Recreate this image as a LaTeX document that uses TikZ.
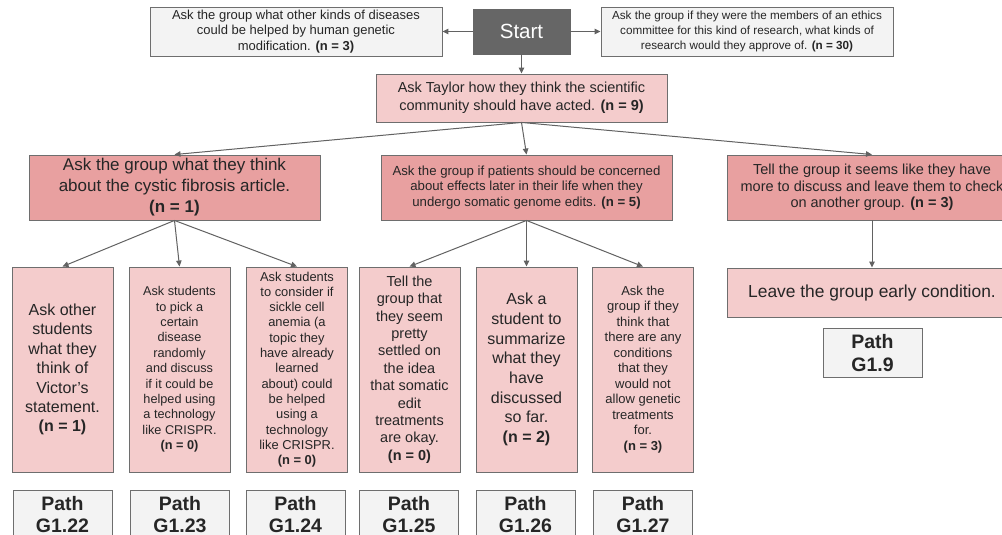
\documentclass[tikz,border=0pt]{standalone}
\usepackage{fontspec}
\setmainfont{Liberation Sans}
\usetikzlibrary{arrows.meta}
\definecolor{edge}{HTML}{6E6E6E}
\definecolor{linec}{HTML}{626262}
\definecolor{ink}{HTML}{262626}
\definecolor{grayfill}{HTML}{F3F3F3}
\definecolor{startfill}{HTML}{666666}
\definecolor{lightpink}{HTML}{F4CCCC}
\definecolor{darkpink}{HTML}{E8A0A0}
\newcommand\fsz[2]{\fontsize{#1}{#2}\selectfont}
\begin{document}
\begin{tikzpicture}[x=1pt,y=-1pt,
  box/.style={draw=edge, line width=0.9pt, align=center, inner sep=0pt, text=ink},
  graybox/.style={box, fill=grayfill},
  lpink/.style={box, fill=lightpink},
  dpink/.style={box, fill=darkpink},
  tallbox/.style={lpink, minimum width=101pt, minimum height=205pt},
  pathbox/.style={graybox, minimum width=99pt, minimum height=49pt, font=\fsz{19.5}{22.5}\bfseries},
  conn/.style={draw=linec, line width=1pt, -{Triangle[length=6pt,width=5.5pt]}}]
\clip (0,0) rectangle (1002,535);
\fill[white] (0,0) rectangle (1002,535);

% top row
\node[graybox, minimum width=292pt, minimum height=49pt, font=\fsz{13}{15.5}] (q1) at (296,31.5)
  {Ask the group what other kinds of diseases\\could be helped by human genetic\\modification. \textbf{(n = 3)}};
\node[box, fill=startfill, draw=startfill, text=white, minimum width=97pt, minimum height=45pt, font=\fsz{20.5}{24}] (start) at (521.5,31.5) {Start};
\node[graybox, minimum width=292pt, minimum height=49pt, font=\fsz{11.7}{15}] (q2) at (747,31.5)
  {Ask the group if they were the members of an ethics\\committee for this kind of research, what kinds of\\research would they approve of. \textbf{(n = 30)}};

\node[lpink, minimum width=291pt, minimum height=48pt, font=\fsz{14.5}{18}] (taylor) at (521.5,98)
  {Ask Taylor how they think the scientific\\community should have acted. \textbf{(n = 9)}};

% second row
\node[dpink, minimum width=291pt, minimum height=65pt, font=\fsz{17}{21}] (cystic) at (174.5,187.5)
  {Ask the group what they think\\about the cystic fibrosis article.\\\textbf{(n = 1)}};
\node[dpink, minimum width=291pt, minimum height=65pt, font=\fsz{13.2}{15.5}] (somatic) at (526.5,187.5)
  {Ask the group if patients should be concerned\\about effects later in their life when they\\undergo somatic genome edits. \textbf{(n = 5)}};
\node[dpink, minimum width=290pt, minimum height=65pt, font=\fsz{14.5}{16.5}] (tell) at (872,187.5)
  {Tell the group it seems like they have\\more to discuss and leave them to check\\on another group. \textbf{(n = 3)}};

\node[lpink, minimum width=290pt, minimum height=49pt, font=\fsz{17.4}{21}] (leave) at (872,292.5)
  {Leave the group early condition.};
\node[pathbox] (g19) at (872.5,353) {Path\\G1.9};

% third row
\node[tallbox, font=\fsz{16}{19.4}] (b1) at (62.5,369.5)
  {Ask other\\students\\what they\\think of\\Victor’s\\statement.\\\textbf{(n = 1)}};
\node[tallbox, font=\fsz{12.7}{15.4}] (b2) at (179.5,369.5)
  {Ask students\\to pick a\\certain\\disease\\randomly\\and discuss\\if it could be\\helped using\\a technology\\like CRISPR.\\\textbf{(n = 0)}};
\node[tallbox, font=\fsz{12.9}{15.3}] (b3) at (297,369.5)
  {Ask students\\to consider if\\sickle cell\\anemia (a\\topic they\\have already\\learned\\about) could\\be helped\\using a\\technology\\like CRISPR.\\\textbf{(n = 0)}};
\node[tallbox, font=\fsz{14.5}{17.4}] (b4) at (409.5,369.5)
  {Tell the\\group that\\they seem\\pretty\\settled on\\the idea\\that somatic\\edit\\treatments\\are okay.\\\textbf{(n = 0)}};
\node[tallbox, font=\fsz{16}{19.7}] (b5) at (526.5,369.5)
  {Ask a\\student to\\summarize\\what they\\have\\discussed\\so far.\\\textbf{(n = 2)}};
\node[tallbox, font=\fsz{13}{15.5}] (b6) at (643,369.5)
  {Ask the\\group if they\\think that\\there are any\\conditions\\that they\\would not\\allow genetic\\treatments\\for.\\\textbf{(n = 3)}};

% path labels
\node[pathbox] (p1) at (62.5,514.5) {Path\\G1.22};
\node[pathbox] (p2) at (180,514.5) {Path\\G1.23};
\node[pathbox] (p3) at (295.5,514.5) {Path\\G1.24};
\node[pathbox] (p4) at (409,514.5) {Path\\G1.25};
\node[pathbox] (p5) at (525.5,514.5) {Path\\G1.26};
\node[pathbox] (p6) at (643,514.5) {Path\\G1.27};

% connectors
\draw[conn] (start.west) -- (q1.east);
\draw[conn] (start.east) -- (q2.west);
\draw[conn] (start.south) -- (taylor.north);
\draw[conn] (taylor.south) -- (cystic.north);
\draw[conn] (taylor.south) -- (somatic.north);
\draw[conn] (taylor.south) -- (tell.north);
\draw[conn] (cystic.south) -- (b1.north);
\draw[conn] (cystic.south) -- (b2.north);
\draw[conn] (cystic.south) -- (b3.north);
\draw[conn] (somatic.south) -- (b4.north);
\draw[conn] (somatic.south) -- (b5.north);
\draw[conn] (somatic.south) -- (b6.north);
\draw[conn] (tell.south) -- (leave.north);
\end{tikzpicture}
\end{document}
